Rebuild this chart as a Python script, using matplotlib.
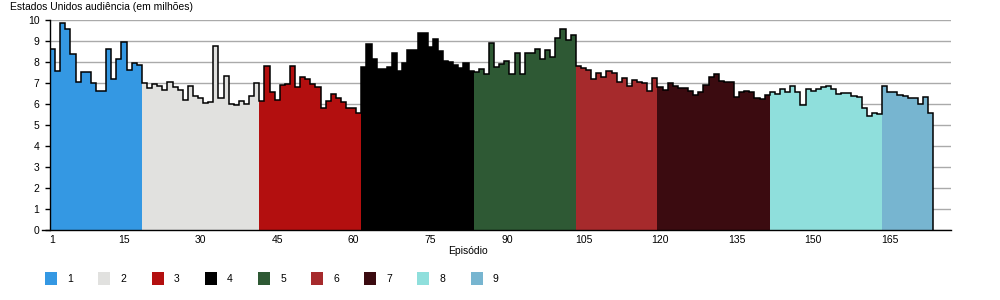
import numpy as np
import matplotlib.pyplot as plt
from matplotlib.patches import Patch

plt.rcParams['font.family'] = ['Liberation Sans', 'DejaVu Sans']

# viewers per episode (millions), one list per season
season_1 = [8.6, 7.57, 9.84, 9.56, 8.37, 7.03, 7.54, 7.51, 6.98, 6.62, 6.62, 8.63, 7.19, 8.14, 8.97, 7.62, 7.97, 7.86]
season_2 = [6.98, 6.78, 6.94, 6.84, 6.67, 7.06, 6.83, 6.67, 6.19, 6.84, 6.38, 6.3, 6.03, 6.08, 8.78, 6.27, 7.32, 5.98, 5.95, 6.14, 5.98, 6.38, 6.98]
season_3 = [6.14, 7.83, 6.59, 6.19, 6.9, 6.94, 7.83, 6.83, 7.3, 7.17, 6.95, 6.83, 5.79, 6.14, 6.46, 6.3, 6.11, 5.79, 5.79, 5.59]
season_4 = [7.77, 8.84, 8.15, 7.68, 7.68, 7.77, 8.41, 7.56, 7.93, 8.55, 8.55, 9.39, 9.36, 8.73, 9.11, 8.52, 8.07, 8.0, 7.88, 7.72, 7.96, 7.56]
season_5 = [7.51, 7.65, 7.41, 8.89, 7.78, 7.89, 8.05, 7.41, 8.41, 7.41, 8.41, 8.41, 8.62, 8.14, 8.57, 8.25, 9.13, 9.57, 9.05, 9.29]
season_6 = [7.83, 7.72, 7.6, 7.18, 7.47, 7.28, 7.55, 7.48, 7.05, 7.23, 6.87, 7.12, 7.04, 7.02, 6.64, 7.23]
season_7 = [6.82, 6.65, 6.99, 6.87, 6.76, 6.76, 6.64, 6.44, 6.56, 6.9, 7.28, 7.42, 7.08, 7.05, 7.03, 6.32, 6.56, 6.63, 6.59, 6.3, 6.24, 6.43]
season_8 = [6.56, 6.47, 6.71, 6.57, 6.85, 6.58, 5.96, 6.71, 6.64, 6.71, 6.79, 6.88, 6.71, 6.47, 6.52, 6.54, 6.4, 6.35, 5.8, 5.45, 5.55, 5.52]
season_9 = [6.87, 6.56, 6.59, 6.43, 6.38, 6.3, 6.27, 5.98, 6.32, 5.56]

seasons = [season_1, season_2, season_3, season_4, season_5, season_6, season_7, season_8, season_9]
season_names = ['1', '2', '3', '4', '5', '6', '7', '8', '9']
season_colors = ['#3498E3', '#E1E1DF', '#B30F0F', '#000000', '#2E5934',
                 '#A62A2C', '#3B0B10', '#8FDFDC', '#77B5D0']
x_ticks = [1, 15, 30, 45, 60, 75, 90, 105, 120, 135, 150, 165]

viewers = []
bar_colors = []
for s, c in zip(seasons, season_colors):
    viewers += s
    bar_colors += [c] * len(s)
episodes = np.arange(1, len(viewers) + 1)

fig = plt.figure(figsize=(10, 3), dpi=100)
ax = fig.add_axes([0.05, 0.2333, 0.901, 0.7])

ax.bar(episodes, viewers, width=1.0, color=bar_colors, linewidth=0, zorder=2)
ax.stairs(viewers, np.arange(0.5, len(viewers) + 1), baseline=0,
          color='black', linewidth=1.1, zorder=3)

ax.set_xlim(0.5, 177)
ax.set_ylim(0, 10)
ax.set_yticks(range(11))
ax.set_xticks(x_ticks)
ax.yaxis.grid(True, color='#aaaaaa', linewidth=1)
ax.set_axisbelow(True)
for side in ['top', 'right']:
    ax.spines[side].set_visible(False)
ax.spines['left'].set_linewidth(1)
ax.spines['bottom'].set_linewidth(1)
ax.spines['bottom'].set_bounds(-1.0, 177)
ax.tick_params(axis='y', length=3.6, width=1, pad=4, labelsize=7.5)
ax.tick_params(axis='x', length=0, pad=3.5, labelsize=7.5)

fig.text(0.01, 0.977, 'Estados Unidos audiência (em milhões)', fontsize=7.5,
         ha='left', va='center')
fig.text(0.468, 0.163, 'Episódio', fontsize=7.5, ha='center', va='center')

handles = [Patch(facecolor=c, edgecolor='none') for c in season_colors]
fig.legend(handles, season_names, loc='center left', bbox_to_anchor=(0.045, 0.072),
           ncol=9, frameon=False, fontsize=7.5, handlelength=1.15, handleheight=1.5,
           handletextpad=1.0, columnspacing=2.4, borderpad=0, borderaxespad=0)

fig.savefig('out.png', dpi=100)
